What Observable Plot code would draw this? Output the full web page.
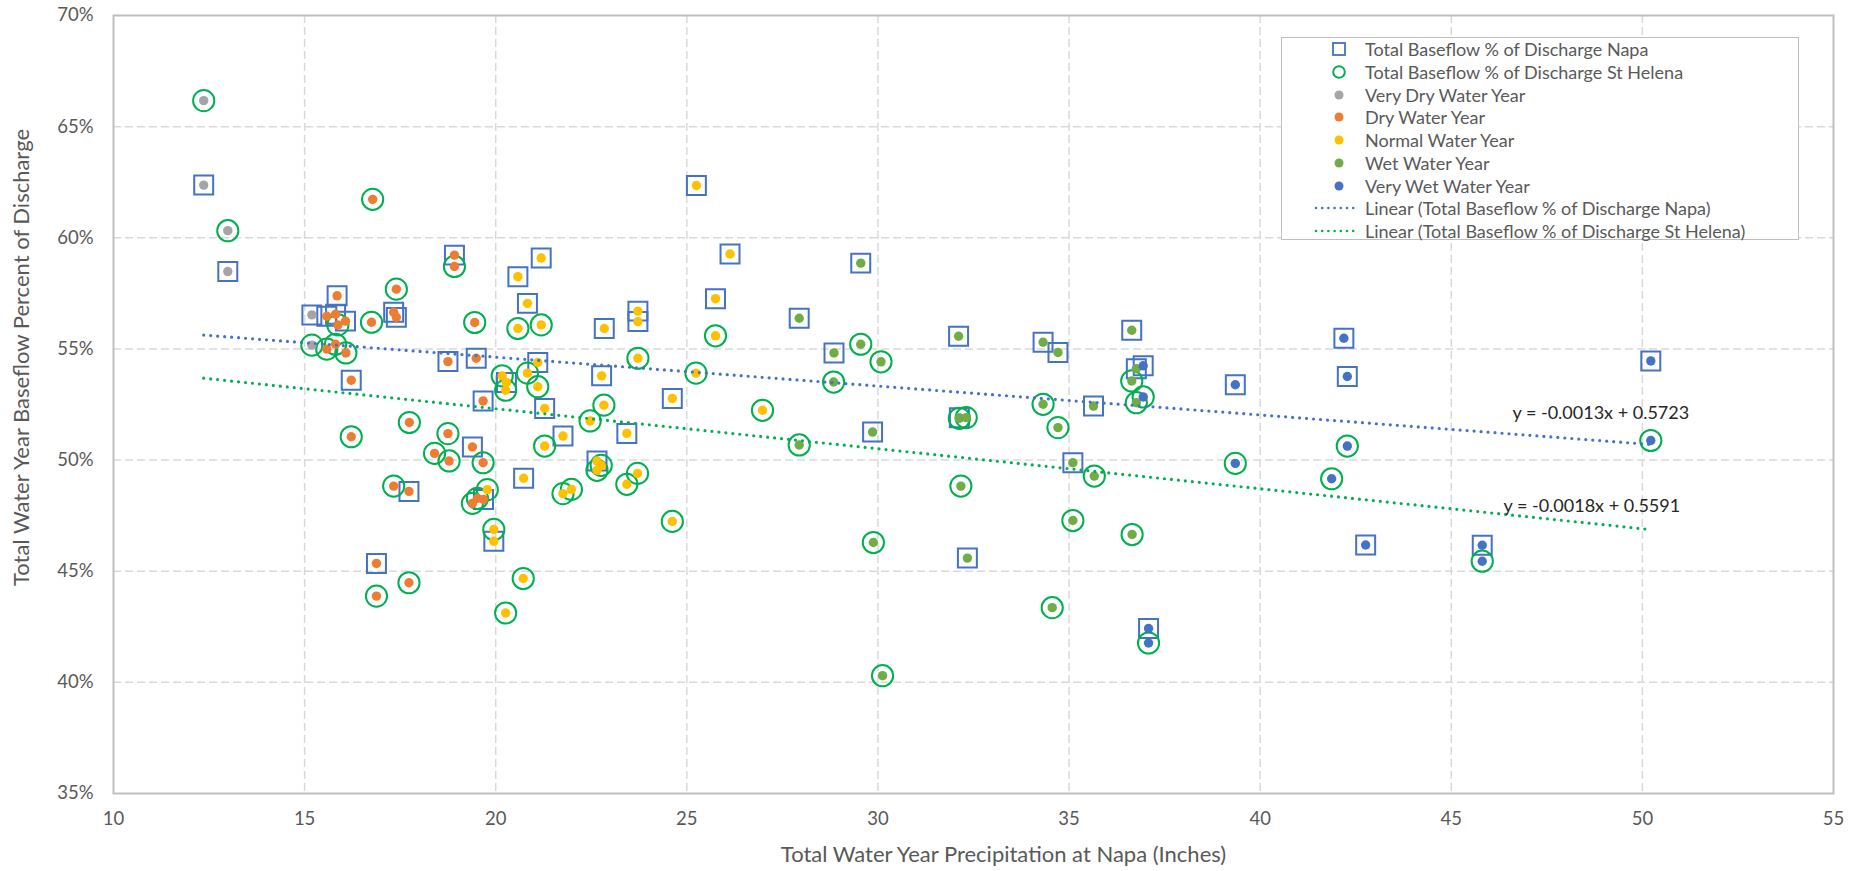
<!DOCTYPE html>
<html>
<head>
<meta charset="utf-8">
<script src="https://cdn.jsdelivr.net/npm/d3@7"></script>
<script src="https://cdn.jsdelivr.net/npm/@observablehq/plot@0.6"></script>
<style>
  html, body { margin: 0; padding: 0; background: #fff; overflow: hidden; }
  #wrap { position: relative; width: 1864px; height: 871px; }
  #legend { position: absolute; left: 1281px; top: 37px; width: 518px; height: 203px;
    border: 1.3px solid #BFBFBF; background: #fff; box-sizing: border-box;
    font-family: Lato, "Open Sans", sans-serif; font-size: 18px; color: #595959; }
  .row { position: absolute; left: 0; height: 22px; display: flex; align-items: center; }
  .row svg { position: absolute; left: 0; top: 0; }
  .row span { position: absolute; left: 83px; white-space: nowrap; line-height: 22px; }
</style>
</head>
<body>
<div id="wrap"><div id="chart"></div><div id="legend"></div></div>
<script>
// ---------------- data ----------------
const yearTypes = ["Very Dry Water Year", "Dry Water Year", "Normal Water Year", "Wet Water Year", "Very Wet Water Year"];
const yearTypeColors = ["#A5A5A5", "#ED7D31", "#FFC000", "#70AD47", "#4472C4"];

// Total Baseflow % of Discharge — Napa (squares)
const napaPrecip = [12.36, 12.99, 15.19,
  15.85, 15.58, 15.81, 16.07, 17.33, 17.40, 18.92, 16.22, 18.75, 19.49, 19.67, 19.39, 17.73, 19.68, 16.88,
  21.19, 20.58, 20.83, 21.10, 20.28, 21.28, 20.73, 19.95, 25.25, 26.13, 25.75, 22.84, 23.72, 23.72, 22.77, 24.62, 23.43, 21.76, 22.65,
  27.94, 29.55, 28.85, 32.11, 34.32, 34.71, 36.64, 36.76, 35.64, 32.13, 29.86, 35.10, 32.34,
  36.94, 37.08, 39.35, 42.19, 42.28, 42.76, 45.81, 50.22];
const napaBaseflow = [62.37, 58.48, 56.53,
  57.39, 56.47, 56.56, 56.25, 56.65, 56.42, 59.22, 53.59, 54.43, 54.58, 52.66, 50.59, 48.59, 48.23, 45.35,
  59.09, 58.25, 57.05, 54.39, 53.49, 52.32, 49.18, 46.35, 62.35, 59.27, 57.26, 55.92, 56.70, 56.23, 53.79, 52.77, 51.20, 51.08, 49.96,
  56.38, 58.86, 54.82, 55.57, 55.30, 54.84, 55.84, 54.11, 52.43, 51.90, 51.26, 49.88, 45.59,
  54.24, 42.42, 53.39, 55.48, 53.76, 46.18, 46.17, 54.46];
const napaYearType = [0, 0, 0,
  1, 1, 1, 1, 1, 1, 1, 1, 1, 1, 1, 1, 1, 1, 1,
  2, 2, 2, 2, 2, 2, 2, 2, 2, 2, 2, 2, 2, 2, 2, 2, 2, 2, 2,
  3, 3, 3, 3, 3, 3, 3, 3, 3, 3, 3, 3, 3,
  4, 4, 4, 4, 4, 4, 4, 4];

// Total Baseflow % of Discharge — St Helena (circles)
const sthPrecip = [12.36, 12.99, 15.19,
  16.78, 18.92, 17.40, 15.87, 16.75, 19.45, 15.58, 15.81, 16.08, 17.74, 16.22, 18.75, 18.40, 18.78, 19.67, 17.33, 19.39, 19.52, 17.73, 16.88,
  20.58, 21.19, 20.83, 20.17, 20.26, 21.10, 21.28, 19.78, 19.95, 20.72, 20.26, 25.75, 23.72, 25.24, 22.83, 26.98, 22.47, 22.76, 22.65, 23.71, 23.43, 21.98, 21.76, 24.62,
  27.94, 28.84, 29.55, 30.08, 36.64, 36.76, 34.32, 34.71, 32.13, 32.31, 35.66, 32.17, 35.10, 36.65, 29.88, 34.56, 30.12,
  36.94, 37.08, 39.35, 42.28, 41.87, 45.81, 50.22];
const sthBaseflow = [66.17, 60.32, 55.17,
  61.73, 58.71, 57.69, 56.08, 56.20, 56.19, 54.99, 55.21, 54.82, 51.69, 51.05, 51.19, 50.30, 49.96, 49.88, 48.83, 48.05, 48.28, 44.48, 43.88,
  55.92, 56.08, 53.91, 53.79, 53.14, 53.30, 50.63, 48.67, 46.88, 44.67, 43.12, 55.59, 54.58, 53.91, 52.47, 52.24, 51.76, 49.76, 49.54, 49.40, 48.91, 48.68, 48.49, 47.24,
  50.68, 53.51, 55.21, 54.42, 53.56, 52.58, 52.51, 51.46, 51.88, 51.91, 49.28, 48.83, 47.28, 46.65, 46.29, 43.36, 40.30,
  52.84, 41.77, 49.85, 50.63, 49.16, 45.45, 50.88];
const sthYearType = [0, 0, 0,
  1, 1, 1, 1, 1, 1, 1, 1, 1, 1, 1, 1, 1, 1, 1, 1, 1, 1, 1, 1,
  2, 2, 2, 2, 2, 2, 2, 2, 2, 2, 2, 2, 2, 2, 2, 2, 2, 2, 2, 2, 2, 2, 2, 2,
  3, 3, 3, 3, 3, 3, 3, 3, 3, 3, 3, 3, 3, 3, 3, 3, 3,
  4, 4, 4, 4, 4, 4, 4];

// Linear trendlines (as labelled on the chart)
const trendNames = ["Napa", "St Helena"];
const trendSlopes = [-0.0013, -0.0018];
const trendIntercepts = [0.5723, 0.5591];
const trendColors = ["#4472C4", "#00B050"];

const xTicks = [10, 15, 20, 25, 30, 35, 40, 45, 50, 55];
const yTicks = [0.35, 0.40, 0.45, 0.50, 0.55, 0.60, 0.65, 0.70];

const xTitle = "Total Water Year Precipitation at Napa (Inches)";
const yTitle = "Total Water Year Baseflow Percent of Discharge";

// ---------------- build ----------------
const napa = napaPrecip.map((x, i) => ({x, y: napaBaseflow[i] / 100, type: yearTypes[napaYearType[i]]}));
const sth = sthPrecip.map((x, i) => ({x, y: sthBaseflow[i] / 100, type: yearTypes[sthYearType[i]]}));
const allPts = napa.concat(sth);
const xMin = d3.min(allPts, d => d.x), xMax = d3.max(allPts, d => d.x);
const trends = trendNames.map((name, i) => {
  const f = x => trendSlopes[i] * x + trendIntercepts[i];
  return {name, color: trendColors[i],
    pts: [{x: xMin, y: f(xMin)}, {x: xMax, y: f(xMax)}],
    label: `y = ${trendSlopes[i].toFixed(4)}x + ${trendIntercepts[i].toFixed(4)}`};
});
const labelOffsets = [[-50, -31], [-59, -23]];

const FONT = "Lato, 'Open Sans', sans-serif";

const chart = Plot.plot({
  width: 1864, height: 871,
  marginLeft: 113, marginRight: 31, marginTop: 15, marginBottom: 78,
  style: {fontFamily: FONT, fontSize: "18px", color: "#595959", background: "#fff", overflow: "visible"},
  x: {domain: [10, 55]},
  y: {domain: [0.35, 0.70]},
  color: {domain: yearTypes, range: yearTypeColors},
  marks: [
    Plot.gridX(xTicks.slice(1, -1), {stroke: "#D9D9D9", strokeOpacity: 1, strokeWidth: 1.5, strokeDasharray: "8,4"}),
    Plot.gridY(yTicks.slice(1, -1), {stroke: "#D9D9D9", strokeOpacity: 1, strokeWidth: 1.5, strokeDasharray: "8,4"}),
    Plot.frame({stroke: "#BFBFBF", strokeWidth: 2}),
    Plot.axisX({ticks: xTicks, tickSize: 0, tickPadding: 18, label: null, fontSize: 18.5}),
    Plot.axisY({ticks: yTicks, tickSize: 0, tickPadding: 20, tickFormat: d3.format(".0%"), label: null, fontSize: 18.5}),
    Plot.text([xTitle], {frameAnchor: "bottom", dx: 30, dy: 68, text: d => d, fontSize: 22, fill: "#595959", textAnchor: "middle"}),
    Plot.text([yTitle], {frameAnchor: "left", dx: -92, dy: -47, rotate: -90, text: d => d, fontSize: 22, fill: "#595959", textAnchor: "middle"}),
    Plot.dot(napa, {x: "x", y: "y", symbol: "square", r: 10.7, stroke: "#4472C4", strokeWidth: 2, fill: "none"}),
    Plot.dot(sth, {x: "x", y: "y", symbol: "circle", r: 10.6, stroke: "#00B050", strokeWidth: 2, fill: "none"}),
    Plot.dot(allPts, {x: "x", y: "y", r: 4.7, fill: "type", stroke: null}),
    ...trends.map(t => Plot.line(t.pts, {x: "x", y: "y", stroke: t.color, strokeWidth: 3.2, strokeDasharray: "0,7", strokeLinecap: "round"})),
    ...trends.map((t, i) => Plot.text([t], {x: d => d.pts[1].x, y: d => d.pts[1].y, text: "label",
      dx: labelOffsets[i][0], dy: labelOffsets[i][1], fontSize: 18, fill: "#262626"}))
  ]
});
document.getElementById("chart").appendChild(chart);

// ---------------- legend ----------------
const legendItems = [
  {kind: "square", label: "Total Baseflow % of Discharge Napa"},
  {kind: "circle", label: "Total Baseflow % of Discharge St Helena"},
  ...yearTypes.map((t, i) => ({kind: "dot", color: yearTypeColors[i], label: t})),
  ...trends.map(t => ({kind: "line", color: t.color, label: `Linear (Total Baseflow % of Discharge ${t.name})`}))
];
const legend = document.getElementById("legend");
legendItems.forEach((it, i) => {
  const row = document.createElement("div");
  row.className = "row";
  row.style.top = (0.3 + i * 22.7) + "px";
  row.style.width = "100%";
  let sym = "";
  if (it.kind === "square") sym = `<rect x="51" y="5" width="12" height="12" fill="none" stroke="#4472C4" stroke-width="1.8"/>`;
  if (it.kind === "circle") sym = `<circle cx="57" cy="11" r="5.8" fill="none" stroke="#00B050" stroke-width="2"/>`;
  if (it.kind === "dot") sym = `<circle cx="57" cy="11" r="4.5" fill="${it.color}"/>`;
  if (it.kind === "line") sym = `<line x1="34" y1="11" x2="77" y2="11" stroke="${it.color}" stroke-width="2.6" stroke-dasharray="0,6.2" stroke-linecap="round"/>`;
  row.innerHTML = `<svg width="90" height="22">${sym}</svg><span>${it.label}</span>`;
  legend.appendChild(row);
});
</script>
</body>
</html>
